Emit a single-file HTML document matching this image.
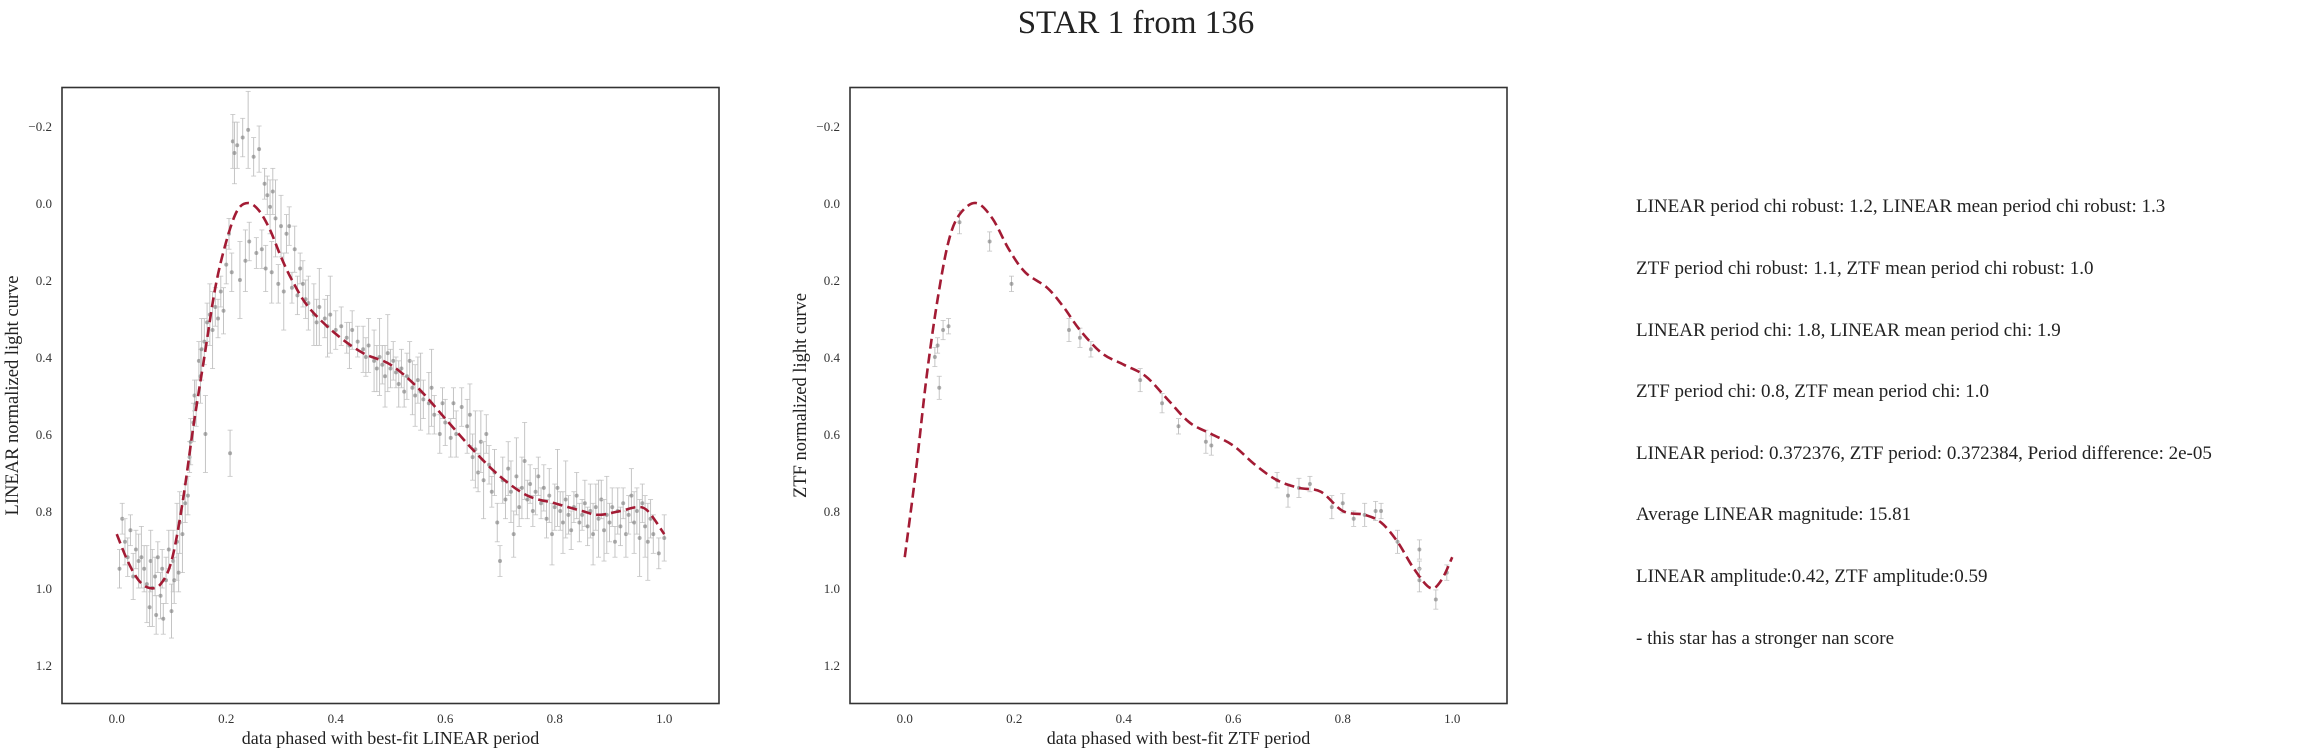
<!DOCTYPE html>
<html><head><meta charset="utf-8"><style>
html,body{margin:0;padding:0;background:#fff;}
svg{display:block;font-family:"Liberation Serif",serif;}
</style></head><body>
<svg id="fig" width="2301" height="753" viewBox="0 0 2301 753" xmlns="http://www.w3.org/2000/svg">
<text x="1136" y="33" font-size="33" text-anchor="middle" fill="#222">STAR 1 from 136</text>
<g id="left"></g>
<g id="right"></g>
<g font-size="19" fill="#222">
<text x="1636" y="212">LINEAR period chi robust: 1.2, LINEAR mean period chi robust: 1.3</text>
<text x="1636" y="274">ZTF period chi robust: 1.1, ZTF mean period chi robust: 1.0</text>
<text x="1636" y="336">LINEAR period chi: 1.8, LINEAR mean period chi: 1.9</text>
<text x="1636" y="397">ZTF period chi: 0.8, ZTF mean period chi: 1.0</text>
<text x="1636" y="459">LINEAR period: 0.372376, ZTF period: 0.372384, Period difference: 2e-05</text>
<text x="1636" y="520">Average LINEAR magnitude: 15.81</text>
<text x="1636" y="582">LINEAR amplitude:0.42, ZTF amplitude:0.59</text>
<text x="1636" y="644">- this star has a stronger nan score</text>
</g>
</svg>
<script>
const xTicks=[0.0,0.2,0.4,0.6,0.8,1.0];
const yTicks=[-0.2,0.0,0.2,0.4,0.6,0.8,1.0,1.2];
const linPhase=[0.0,0.02,0.04,0.06,0.08,0.1,0.12,0.14,0.16,0.18,0.2,0.22,0.24,0.26,0.28,0.3,0.32,0.35,0.4,0.45,0.5,0.55,0.6,0.65,0.7,0.75,0.8,0.85,0.88,0.92,0.95,0.97,1.0];
const linFit=[0.86,0.93,0.98,1.0,0.99,0.93,0.78,0.58,0.4,0.22,0.1,0.02,0.0,0.02,0.07,0.14,0.2,0.27,0.34,0.39,0.42,0.48,0.56,0.64,0.71,0.76,0.78,0.8,0.81,0.8,0.79,0.8,0.86];
const linPts=[[0.005,0.95],[0.01,0.82],[0.015,0.88],[0.02,0.92],[0.025,0.85],[0.03,0.97],[0.035,0.9],[0.04,0.93],[0.045,0.92],[0.05,0.95],[0.055,0.99],[0.06,1.05],[0.062,0.93],[0.065,1.0],[0.07,0.97],[0.072,1.07],[0.075,0.92],[0.08,1.02],[0.083,0.95],[0.085,1.08],[0.09,0.98],[0.095,0.9],[0.1,1.06],[0.103,0.93],[0.105,0.98],[0.11,0.88],[0.113,0.96],[0.115,0.83],[0.12,0.86],[0.125,0.78],[0.13,0.76],[0.133,0.66],[0.135,0.62],[0.14,0.57],[0.142,0.5],[0.145,0.52],[0.15,0.41],[0.153,0.45],[0.155,0.38],[0.16,0.36],[0.162,0.6],[0.165,0.31],[0.17,0.29],[0.175,0.33],[0.18,0.27],[0.185,0.3],[0.19,0.23],[0.195,0.28],[0.2,0.16],[0.205,0.08],[0.207,0.65],[0.21,0.18],[0.212,-0.16],[0.215,-0.13],[0.22,-0.15],[0.225,0.2],[0.23,-0.17],[0.235,0.15],[0.24,-0.19],[0.242,0.1],[0.25,-0.12],[0.255,0.13],[0.26,-0.14],[0.265,0.12],[0.27,-0.05],[0.272,0.17],[0.275,-0.02],[0.28,0.01],[0.283,0.18],[0.285,-0.03],[0.29,0.04],[0.295,0.21],[0.3,0.06],[0.305,0.23],[0.31,0.08],[0.315,0.06],[0.32,0.22],[0.325,0.12],[0.33,0.24],[0.335,0.17],[0.34,0.21],[0.345,0.25],[0.35,0.26],[0.36,0.29],[0.365,0.31],[0.37,0.27],[0.38,0.3],[0.385,0.32],[0.39,0.29],[0.4,0.33],[0.41,0.32],[0.42,0.35],[0.425,0.37],[0.43,0.33],[0.44,0.36],[0.45,0.38],[0.455,0.4],[0.46,0.37],[0.47,0.41],[0.475,0.43],[0.48,0.4],[0.485,0.42],[0.49,0.45],[0.495,0.39],[0.5,0.43],[0.505,0.41],[0.51,0.44],[0.515,0.47],[0.52,0.43],[0.525,0.49],[0.53,0.45],[0.535,0.41],[0.54,0.48],[0.545,0.5],[0.55,0.46],[0.555,0.49],[0.56,0.51],[0.57,0.52],[0.575,0.48],[0.58,0.55],[0.59,0.6],[0.595,0.52],[0.6,0.57],[0.61,0.61],[0.615,0.52],[0.62,0.6],[0.63,0.53],[0.64,0.58],[0.645,0.55],[0.65,0.66],[0.655,0.64],[0.66,0.7],[0.665,0.62],[0.67,0.72],[0.675,0.6],[0.68,0.68],[0.685,0.75],[0.69,0.7],[0.695,0.83],[0.7,0.93],[0.705,0.72],[0.71,0.77],[0.715,0.69],[0.72,0.75],[0.725,0.86],[0.73,0.71],[0.735,0.79],[0.74,0.74],[0.745,0.67],[0.75,0.77],[0.755,0.73],[0.76,0.8],[0.765,0.75],[0.77,0.71],[0.775,0.78],[0.78,0.74],[0.785,0.82],[0.79,0.76],[0.795,0.86],[0.8,0.79],[0.805,0.74],[0.81,0.8],[0.815,0.83],[0.82,0.77],[0.825,0.81],[0.83,0.85],[0.835,0.79],[0.84,0.76],[0.845,0.83],[0.85,0.81],[0.855,0.78],[0.86,0.84],[0.865,0.8],[0.87,0.86],[0.875,0.79],[0.88,0.82],[0.885,0.77],[0.89,0.85],[0.895,0.81],[0.9,0.83],[0.905,0.79],[0.91,0.88],[0.915,0.8],[0.92,0.84],[0.925,0.78],[0.93,0.86],[0.935,0.81],[0.94,0.76],[0.945,0.83],[0.95,0.8],[0.955,0.87],[0.96,0.78],[0.965,0.84],[0.97,0.88],[0.975,0.82],[0.98,0.86],[0.99,0.91],[1.0,0.87]];
const linErr=[0.05,0.04,0.06,0.05,0.04,0.06,0.05,0.07,0.08,0.06,0.1,0.05,0.08,0.1,0.05];
const ztfPhase=[0.0,0.02,0.04,0.06,0.08,0.1,0.13,0.16,0.19,0.22,0.26,0.29,0.32,0.36,0.4,0.44,0.48,0.52,0.56,0.6,0.64,0.68,0.72,0.76,0.8,0.84,0.87,0.9,0.93,0.96,0.98,1.0];
const ztfFit=[0.92,0.7,0.45,0.25,0.1,0.03,0.0,0.04,0.12,0.18,0.22,0.27,0.33,0.39,0.42,0.45,0.51,0.57,0.6,0.63,0.68,0.72,0.74,0.75,0.8,0.81,0.83,0.88,0.95,1.0,0.98,0.92];
const ztfPts=[[0.055,0.4],[0.06,0.37],[0.063,0.48],[0.07,0.33],[0.08,0.32],[0.1,0.05],[0.155,0.1],[0.195,0.21],[0.3,0.33],[0.32,0.35],[0.34,0.38],[0.43,0.46],[0.47,0.52],[0.5,0.58],[0.55,0.62],[0.56,0.63],[0.68,0.72],[0.7,0.76],[0.72,0.74],[0.74,0.73],[0.78,0.79],[0.8,0.78],[0.82,0.82],[0.84,0.81],[0.86,0.8],[0.87,0.8],[0.9,0.88],[0.94,0.9],[0.94,0.95],[0.94,0.98],[0.97,1.03],[0.99,0.96]];
const ztfErr=[0.025,0.02,0.03];

const NS="http://www.w3.org/2000/svg";
function mk(tag,attrs,parent){const e=document.createElementNS(NS,tag);for(const k in attrs)e.setAttribute(k,attrs[k]);parent.appendChild(e);return e;}

function panel(g,x0,ylabel,xlabel,phase,fit,pts,errs,prefix){
  const W=657,top=87.5,bot=703.5;
  const X=v=>x0+(v+0.1)/1.2*W;
  const Y=v=>top+(v+0.3)/1.6*(bot-top);
  const eg=mk('g',{},g);
  
  
  pts.forEach((p,i)=>{
    const e=errs[i%errs.length];
    const px=X(p[0]),py=Y(p[1]),y1=Y(p[1]-e),y2=Y(p[1]+e);
    const l=mk('line',{x1:px,x2:px,y1:y1,y2:y2,stroke:'#c4c4c4','stroke-width':1},eg);
    
    
    mk('line',{x1:px-2.5,x2:px+2.5,y1:y1,y2:y1,stroke:'#c4c4c4','stroke-width':0.8},eg);
    mk('line',{x1:px-2.5,x2:px+2.5,y1:y2,y2:y2,stroke:'#c4c4c4','stroke-width':0.8},eg);
    const c=mk('circle',{cx:px,cy:py,r:2,fill:'#7a7a7a','fill-opacity':0.6},eg);
    
    
  });
  const P=phase.map((p,i)=>[X(p),Y(fit[i])]);
  let d='M'+P[0][0]+','+P[0][1];
  for(let i=0;i<P.length-1;i++){
    const p0=P[Math.max(0,i-1)],p1=P[i],p2=P[i+1],p3=P[Math.min(P.length-1,i+2)];
    d+=' C'+(p1[0]+(p2[0]-p0[0])/6)+','+(p1[1]+(p2[1]-p0[1])/6)+' '+(p2[0]-(p3[0]-p1[0])/6)+','+(p2[1]-(p3[1]-p1[1])/6)+' '+p2[0]+','+p2[1];
  }
  const fl=mk('path',{d:d,fill:'none',stroke:'#a31b34','stroke-width':2.6,'stroke-dasharray':'10,5'},g);
  
  
  const fr=mk('rect',{x:x0,y:top,width:W,height:bot-top,fill:'none',stroke:'#333','stroke-width':1.6},g);
  
  
  xTicks.forEach(t=>{
    const tx=mk('text',{x:X(t),y:723,'font-size':13,'text-anchor':'middle',fill:'#333'},g);
    tx.textContent=t.toFixed(1);
    
    
  });
  yTicks.forEach(t=>{
    const ty=mk('text',{x:x0-10,y:Y(t)+5,'font-size':13,'text-anchor':'end',fill:'#333'},g);
    ty.textContent=(t<0?'\u2212':'')+Math.abs(t).toFixed(1);
    
    
  });
  const xl=mk('text',{x:x0+W/2,y:744,'font-size':18,'text-anchor':'middle',fill:'#222'},g);
  xl.textContent=xlabel;
  
  
  const lx=x0-44,ly=(top+bot)/2;
  const yl=mk('text',{x:lx,y:ly,'font-size':18.5,'text-anchor':'middle',fill:'#222',transform:'rotate(-90 '+lx+' '+ly+')'},g);
  yl.textContent=ylabel;
  
  
}
panel(document.getElementById('left'),62,'LINEAR normalized light curve','data phased with best-fit LINEAR period',linPhase,linFit,linPts,linErr,'linear');
panel(document.getElementById('right'),850,'ZTF normalized light curve','data phased with best-fit ZTF period',ztfPhase,ztfFit,ztfPts,ztfErr,'ztf');
</script>
</body></html>
